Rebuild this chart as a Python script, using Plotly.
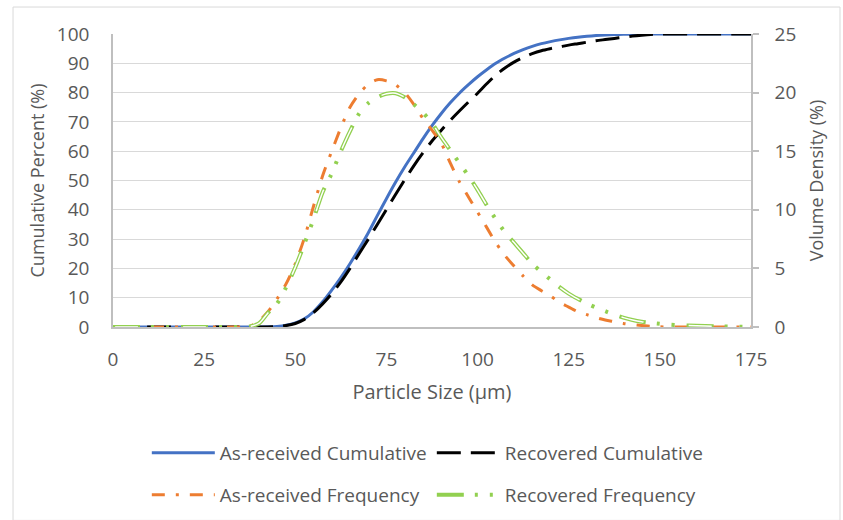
import plotly.graph_objects as go

particle_size = [0, 5, 10, 15, 20, 25, 30, 35,
                 37.5, 40, 42.5, 45, 47.5, 50, 52.5, 55, 57.5, 60, 62.5, 65, 67.5, 70,
                 72.5, 75, 77.5, 80, 82.5, 85, 87.5, 90, 92.5, 95, 97.5, 100, 102.5, 105,
                 107.5, 110, 112.5, 115, 117.5, 120, 122.5, 125, 127.5, 130, 132.5, 135,
                 137.5, 140, 142.5, 145, 147.5, 150, 152.5, 155, 160, 165, 170, 175]

as_received_cum = [0, 0, 0, 0, 0, 0, 0, 0,
                   0, 0, 0.05, 0.2, 0.6, 1.4, 2.8, 5.2, 8.6, 12.6, 16.9, 21.6, 26.7, 32.1,
                   38.0, 43.8, 49.4, 54.6, 59.4, 64.2, 68.7, 72.8, 76.5, 79.8, 82.7, 85.4, 87.8, 90.0,
                   91.8, 93.4, 94.7, 95.8, 96.7, 97.4, 98.0, 98.5, 98.9, 99.2, 99.45, 99.65,
                   99.8, 99.9, 99.95, 100, 100, 100, 100, 100, 100, 100, 100, 100]

recovered_cum = [0, 0, 0, 0, 0, 0, 0, 0,
                 0, 0, 0.03, 0.15, 0.5, 1.2, 2.6, 4.9, 7.9, 11.4, 15.4, 20.0, 25.0, 29.9,
                 35.0, 40.1, 45.2, 50.2, 55.0, 59.4, 63.5, 67.1, 70.5, 73.7, 76.8, 79.8, 83.0, 86.0,
                 88.4, 90.4, 92.0, 93.3, 94.3, 95.0, 95.6, 96.2, 96.7, 97.2, 97.7, 98.1,
                 98.5, 98.9, 99.3, 99.6, 99.85, 100, 100, 100, 100, 100, 100, 100]

as_received_freq = [0, 0, 0, 0, 0, 0, 0, 0,
                    0.05, 0.5, 1.3, 2.4, 3.7, 5.4, 7.6, 10.3, 12.9, 15.0, 17.0, 18.75, 19.9, 20.7,
                    21.1, 21.0, 20.65, 20.0, 19.0, 17.8, 16.8, 15.7, 14.0, 12.4, 11.1, 9.8, 8.5, 7.2,
                    6.1, 5.2, 4.35, 3.6, 3.1, 2.65, 2.1, 1.7, 1.3, 1.05, 0.8, 0.6,
                    0.45, 0.3, 0.2, 0.13, 0.06, 0.02, 0, 0, 0, 0, 0, 0]

recovered_freq = [0, 0, 0, 0, 0, 0, 0, 0,
                  0.05, 0.3, 1.2, 2.0, 3.4, 5.1, 7.1, 9.2, 11.5, 13.1, 15.0, 16.7, 18.2, 19.1,
                  19.6, 19.9, 19.95, 19.6, 19.0, 18.3, 17.4, 16.2, 15.1, 14.0, 12.9, 11.7, 10.4, 9.2,
                  8.1, 7.2, 6.3, 5.4, 4.7, 4.05, 3.4, 2.85, 2.4, 2.0, 1.65, 1.35,
                  1.05, 0.8, 0.6, 0.45, 0.35, 0.27, 0.2, 0.15, 0.1, 0.06, 0.03, 0]

x_ticks = [0, 25, 50, 75, 100, 125, 150, 175]

FONT = "Open Sans"
GRAY_TXT = "#595959"

fig = go.Figure()
fig.add_trace(go.Scatter(x=particle_size, y=as_received_cum, name="As-received Cumulative",
                         mode="lines", legend="legend",
                         line=dict(color="#4472C4", width=3, shape="spline", smoothing=0.8)))
fig.add_trace(go.Scatter(x=particle_size, y=recovered_cum, name="Recovered Cumulative",
                         mode="lines", legend="legend",
                         line=dict(color="#000000", width=3, shape="spline", smoothing=0.8,
                                   dash="24px,10px")))
fig.add_trace(go.Scatter(x=particle_size, y=as_received_freq, name="As-received Frequency",
                         mode="lines", yaxis="y2", legend="legend2",
                         line=dict(color="#ED7D31", width=3, shape="spline", smoothing=0.8,
                                   dash="13px,11px,3px,11px")))
fig.add_trace(go.Scatter(x=particle_size, y=recovered_freq, name="Recovered Frequency",
                         mode="lines", yaxis="y2", legend="legend2",
                         line=dict(color="#92D050", width=4, shape="spline", smoothing=0.8,
                                   dash="27px,11px,3px,12px,3px,12px")))
fig.add_trace(go.Scatter(x=particle_size, y=recovered_freq, name="Recovered Frequency inner",
                         mode="lines", yaxis="y2", showlegend=False, hoverinfo="skip",
                         line=dict(color="#FFFFFF", width=1.5, shape="spline", smoothing=0.8,
                                   dash="0px,2px,23px,43px")))

legend_common = dict(orientation="h", x=0.053, xanchor="left", yanchor="middle",
                     font=dict(family=FONT, size=19, color=GRAY_TXT), itemwidth=63,
                     entrywidth=207, entrywidthmode="pixels",
                     bgcolor="rgba(0,0,0,0)")

fig.update_layout(
    width=843, height=520,
    margin=dict(l=113, r=92, t=34, b=193, autoexpand=False),
    paper_bgcolor="white", plot_bgcolor="white",
    font=dict(family=FONT, size=19, color=GRAY_TXT),
    xaxis=dict(range=[0, 175], tickvals=x_ticks, showgrid=False, zeroline=False,
               showline=True, linecolor="#BFBFBF", linewidth=1.5, ticks="",
               ticklabelstandoff=14, tickfont=dict(size=19),
               title=dict(text="Particle Size (µm)", font=dict(size=20, color=GRAY_TXT), standoff=14)),
    yaxis=dict(range=[0, 100], dtick=10, showgrid=True, gridcolor="#D9D9D9", gridwidth=1,
               zeroline=False, showline=True, linecolor="#BFBFBF", linewidth=1.5, ticks="",
               ticklabelstandoff=18, tickfont=dict(size=19),
               title=dict(text="Cumulative Percent (%)", font=dict(size=18, color=GRAY_TXT), standoff=8)),
    yaxis2=dict(range=[0, 25], dtick=5, overlaying="y", side="right", showgrid=False,
                zeroline=False, showline=True, linecolor="#BFBFBF", linewidth=1.5,
                ticks="outside", ticklen=6, tickcolor="#BFBFBF", tickwidth=1.5,
                ticklabelstandoff=12, tickfont=dict(size=19),
                title=dict(text="Volume Density (%)", font=dict(size=18, color=GRAY_TXT), standoff=15)),
    legend=dict(y=-0.430, **legend_common),
    legend2=dict(y=-0.573, **legend_common),
    shapes=[dict(type="rect", xref="paper", yref="paper", x0=-0.1567, x1=1.1395, y0=-0.66, y1=1.092,
                 line=dict(color="#D9D9D9", width=1), layer="below")],
    showlegend=True,
)

fig.write_html("out.html")
